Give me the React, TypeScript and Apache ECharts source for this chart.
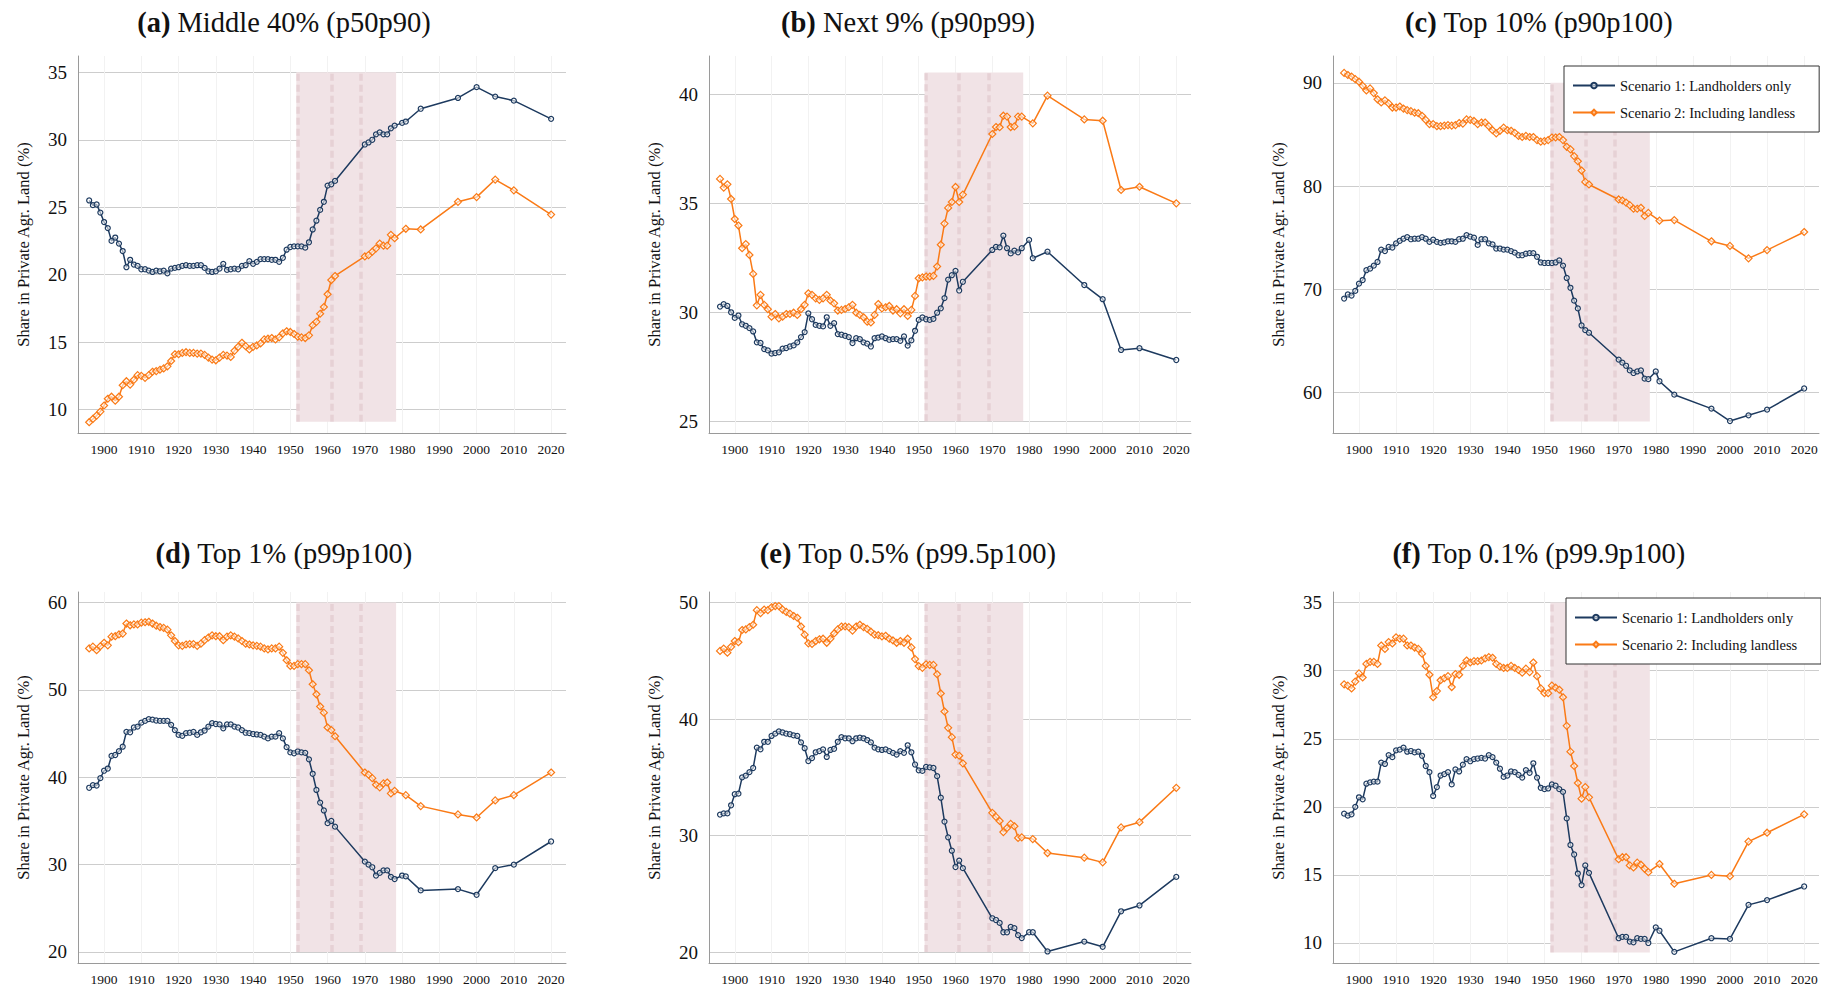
import React, { useEffect, useRef } from "react";
import * as echarts from "echarts";

// ---------- DATA ----------
const YEARS = [
  1896, 1897, 1898, 1899, 1900, 1901, 1902, 1903, 1904, 1905,
  1906, 1907, 1908, 1909, 1910, 1911, 1912, 1913, 1914, 1915,
  1916, 1917, 1918, 1919, 1920, 1921, 1922, 1923, 1924, 1925,
  1926, 1927, 1928, 1929, 1930, 1931, 1932, 1933, 1934, 1935,
  1936, 1937, 1938, 1939, 1940, 1941, 1942, 1943, 1944, 1945,
  1946, 1947, 1948, 1949, 1950, 1951, 1952, 1953, 1954, 1955,
  1956, 1957, 1958, 1959, 1960, 1961, 1962,
  1970, 1971, 1972, 1973, 1974, 1975, 1976, 1977, 1978,
  1980, 1981, 1985, 1995, 2000, 2005, 2010, 2020,
];

const X_TICKS = [1900, 1910, 1920, 1930, 1940, 1950, 1960, 1970, 1980, 1990, 2000, 2010, 2020];
const REFORM_YEARS = [1952, 1961, 1969];
const REFORM_SPAN = [1951.6, 1978.4];

const SERIES_NAMES = ["Scenario 1: Landholders only", "Scenario 2: Including landless"];
const TITLE_TAGS = ["(a)", "(b)", "(c)", "(d)", "(e)", "(f)"];
const TITLE_TEXTS = [
  "Middle 40% (p50p90)",
  "Next 9% (p90p99)",
  "Top 10% (p90p100)",
  "Top 1% (p99p100)",
  "Top 0.5% (p99.5p100)",
  "Top 0.1% (p99.9p100)",
];
const Y_NAME = "Share in Private Agr. Land (%)";

// (a) Middle 40%
const A_S1 = [
  25.5, 25.15, 25.2, 24.6, 23.9, 23.45, 22.5, 22.75, 22.3, 21.75,
  20.55, 21.1, 20.75, 20.65, 20.4, 20.4, 20.3, 20.2, 20.3, 20.25,
  20.3, 20.1, 20.45, 20.5, 20.55, 20.65, 20.7, 20.65, 20.65, 20.7,
  20.7, 20.5, 20.25, 20.2, 20.25, 20.45, 20.8, 20.35, 20.4, 20.45,
  20.4, 20.65, 20.7, 21.0, 20.8, 20.95, 21.15, 21.15, 21.15, 21.1,
  21.1, 20.95, 21.25, 21.85, 22.05, 22.1, 22.1, 22.1, 22.0, 22.4,
  23.35, 24.0, 24.8, 25.4, 26.6, 26.7, 26.95,
  29.65, 29.8, 30.0, 30.4, 30.55, 30.4, 30.4, 30.85, 31.05,
  31.25, 31.35, 32.3, 33.1, 33.9, 33.2, 32.9, 31.55,
];
const A_S2 = [
  9.06, 9.3, 9.55, 9.85, 10.3, 10.8, 10.95, 10.65, 10.95, 11.8,
  12.1, 11.85, 12.2, 12.55, 12.5, 12.35, 12.55, 12.8, 12.85, 12.95,
  13.05, 13.2, 13.6, 14.1, 14.1, 14.2, 14.25, 14.2, 14.2, 14.15,
  14.15, 14.05, 13.85, 13.7, 13.65, 13.85, 14.05, 14.0, 13.9, 14.35,
  14.65, 14.95, 14.7, 14.45, 14.65, 14.75, 14.9, 15.2, 15.25, 15.3,
  15.2, 15.35, 15.65, 15.8, 15.75, 15.6, 15.4, 15.35, 15.3, 15.5,
  16.25, 16.5, 17.1, 17.6, 18.55, 19.6, 19.9,
  21.35, 21.45, 21.7, 21.95, 22.3, 22.15, 22.15, 22.95, 22.7,
  null, 23.4, 23.35, 25.4, 25.75, 27.05, 26.25, 24.45,
];

// (b) Next 9%
const B_S1 = [
  30.26, 30.37, 30.29, 30.0, 29.74, 29.85, 29.45, 29.38, 29.27, 29.12,
  28.62, 28.59, 28.31, 28.25, 28.1, 28.13, 28.16, 28.33, 28.36, 28.43,
  28.48, 28.62, 28.86, 29.09, 29.95, 29.68, 29.42, 29.38, 29.35, 29.77,
  29.38, 29.5, 29.0, 28.97, 28.92, 28.86, 28.59, 28.81, 28.77, 28.62,
  28.56, 28.43, 28.81, 28.84, 28.89, 28.81, 28.74, 28.77, 28.77, 28.69,
  28.89, 28.47, 28.71, 29.15, 29.65, 29.76, 29.68, 29.65, 29.7, 29.98,
  30.18, 30.65, 31.5, 31.7, 31.9, 31.0, 31.4,
  32.86, 33.0, 32.98, 33.52, 32.94, 32.7, 32.83, 32.75, 32.94,
  33.32, 32.48, 32.78, 31.25, 30.6, 28.27, 28.35, 27.81,
];
const B_S2 = [
  36.12, 35.72, 35.87, 35.2, 34.28, 33.98, 32.94, 33.13, 32.63, 31.76,
  30.32, 30.8, 30.34, 30.14, 29.8, 29.92, 29.72, 29.8, 29.92, 29.92,
  29.98, 29.88, 30.14, 30.34, 30.87, 30.8, 30.64, 30.57, 30.64, 30.8,
  30.54, 30.41, 30.08, 30.11, 30.15, 30.23, 30.34, 29.98, 29.88, 29.77,
  29.57, 29.53, 29.88, 30.38, 30.18, 30.23, 30.29, 30.08, 30.14, 29.95,
  30.14, 29.83, 30.11, 30.75, 31.56, 31.6, 31.64, 31.64, 31.67, 32.1,
  33.1, 34.07, 34.79, 35.06, 35.75, 35.06, 35.4,
  38.18, 38.5, 38.49, 39.02, 38.98, 38.5, 38.53, 38.98, 38.98,
  null, 38.67, 39.94, 38.85, 38.79, 35.61, 35.76, 35.0,
];

// (c) Top 10%
const C_S1 = [
  69.1, 69.5, 69.4, 69.85, 70.55, 70.9, 71.85, 72.0, 72.3, 72.65,
  73.85, 73.7, 74.1, 74.05, 74.45, 74.7, 74.9, 75.05, 74.85, 74.9,
  74.9, 75.05, 74.9, 74.6, 74.8, 74.6, 74.5, 74.55, 74.65, 74.65,
  74.6, 74.85, 74.9, 75.25, 75.1, 75.0, 74.3, 74.85, 74.85, 74.45,
  74.35, 73.95, 73.95, 73.85, 73.85, 73.7, 73.55, 73.3, 73.3, 73.45,
  73.5, 73.5, 73.15, 72.6, 72.55, 72.55, 72.55, 72.6, 72.8, 72.3,
  71.1, 70.15, 68.9, 68.15, 66.5, 66.05, 65.8,
  63.2, 62.9, 62.6, 62.15, 61.9, 62.05, 62.15, 61.35, 61.3,
  62.05, 61.1, 59.8, 58.45, 57.25, 57.8, 58.35, 60.4,
];
const C_S2 = [
  90.95, 90.75, 90.6, 90.35, 90.1, 89.7, 89.25, 89.45, 89.0, 88.4,
  88.1, 88.3, 88.0, 87.6, 87.6, 87.7, 87.5, 87.35, 87.25, 87.1,
  87.05, 86.8, 86.4, 86.0, 86.0, 85.8, 85.8, 85.85, 85.9, 85.85,
  85.9, 86.1, 86.05, 86.45, 86.4, 86.3, 86.0, 86.15, 86.15, 85.8,
  85.4, 85.1, 85.35, 85.65, 85.4, 85.35, 85.15, 84.85, 84.75, 84.85,
  84.75, 84.75, 84.45, 84.3, 84.35, 84.45, 84.7, 84.7, 84.75, 84.45,
  83.8, 83.55, 82.9, 82.4, 81.5, 80.4, 80.15,
  78.7, 78.6, 78.4, 78.15, 77.8, 77.8, 77.9, 77.1, 77.4,
  null, 76.65, 76.7, 74.65, 74.2, 73.0, 73.8, 75.55,
];

// (d) Top 1%
const D_S1 = [
  38.8, 39.1, 39.05, 39.9, 40.75, 41.0, 42.45, 42.55, 43.0, 43.5,
  45.2, 45.15, 45.7, 45.8, 46.25, 46.45, 46.65, 46.6, 46.5, 46.45,
  46.45, 46.45, 46.0, 45.4, 44.85, 44.75, 45.05, 45.1, 45.2, 44.85,
  45.15, 45.35, 45.8, 46.2, 46.1, 46.05, 45.6, 46.05, 46.05, 45.8,
  45.7, 45.4, 45.1, 45.05, 44.95, 44.9, 44.85, 44.65, 44.45, 44.65,
  44.65, 45.05, 44.45, 43.45, 42.85, 42.75, 42.95, 42.85, 42.8, 42.05,
  40.4, 38.55, 37.1, 36.2, 34.75, 35.0, 34.35,
  30.35, 30.0, 29.7, 28.75, 29.05, 29.35, 29.35, 28.6, 28.35,
  28.75, 28.65, 27.05, 27.2, 26.55, 29.6, 30.0, 32.65,
];
const D_S2 = [
  54.75, 54.95, 54.55, 55.0, 55.4, 55.1, 56.1, 56.15, 56.35, 56.45,
  57.6, 57.4, 57.5, 57.5, 57.7, 57.75, 57.8, 57.6, 57.35, 57.2,
  57.1, 56.9, 56.25, 55.6, 55.1, 55.05, 55.2, 55.25, 55.25, 55.05,
  55.3, 55.7, 56.0, 56.25, 56.15, 56.15, 55.7, 56.1, 56.25, 56.1,
  55.9, 55.6, 55.3, 55.2, 55.1, 55.05, 54.95, 54.75, 54.65, 54.75,
  54.75, 54.95, 54.25, 53.4, 52.75, 52.75, 52.95, 52.95, 52.95, 52.25,
  50.65, 49.5, 48.1, 47.4, 45.7, 45.4, 44.7,
  40.55, 40.3, 39.9, 39.15, 38.85, 39.3, 39.4, 38.15, 38.45,
  null, 37.95, 36.7, 35.75, 35.4, 37.35, 37.95, 40.55,
];

// (e) Top 0.5%
const E_S1 = [
  31.8, 31.9, 31.9, 32.6, 33.55, 33.6, 35.0, 35.15, 35.45, 35.8,
  37.55, 37.4, 38.05, 38.05, 38.55, 38.75, 38.95, 38.85, 38.75, 38.7,
  38.6, 38.55, 38.0, 37.5, 36.4, 36.65, 37.15, 37.25, 37.4, 36.75,
  37.35, 37.45, 38.05, 38.45, 38.35, 38.35, 38.1, 38.35, 38.4, 38.35,
  38.2, 38.0, 37.55, 37.4, 37.35, 37.4, 37.25, 37.1, 36.95, 37.25,
  37.1, 37.75, 37.15, 36.1, 35.6, 35.55, 35.9, 35.85, 35.8, 35.1,
  33.25, 31.2, 29.85, 28.7, 27.3, 27.85, 27.2,
  22.9, 22.75, 22.5, 21.7, 21.7, 22.15, 22.05, 21.45, 21.2,
  21.7, 21.7, 20.05, 20.9, 20.45, 23.5, 24.0, 26.45,
];
const E_S2 = [
  45.85, 46.05, 45.7, 46.2, 46.7, 46.6, 47.65, 47.7, 47.9, 48.1,
  49.35, 49.1, 49.4, 49.35, 49.6, 49.7, 49.7, 49.4, 49.2, 49.05,
  48.85, 48.7, 47.95, 47.25, 46.5, 46.45, 46.7, 46.85, 46.9, 46.55,
  46.9, 47.35, 47.7, 47.95, 47.95, 47.9, 47.6, 47.95, 48.1, 47.9,
  47.75, 47.5, 47.25, 47.2, 47.1, 47.15, 46.9, 46.75, 46.55, 46.7,
  46.55, 46.9, 46.15, 45.15, 44.55, 44.4, 44.7, 44.65, 44.65, 43.85,
  42.2, 40.65, 39.25, 38.45, 36.95, 36.85, 36.2,
  31.95, 31.6, 31.25, 30.3, 30.65, 31.0, 30.8, 29.8, 29.85,
  null, 29.7, 28.5, 28.1, 27.7, 30.7, 31.15, 34.1,
];

// (f) Top 0.1%
const F_S1 = [
  19.5, 19.35, 19.45, 20.0, 20.7, 20.55, 21.7, 21.8, 21.85, 21.85,
  23.25, 23.15, 23.8, 23.65, 24.15, 24.2, 24.35, 24.05, 24.1, 24.0,
  24.05, 23.75, 23.0, 22.55, 20.8, 21.45, 22.3, 22.4, 22.55, 21.65,
  22.75, 22.6, 23.1, 23.5, 23.35, 23.5, 23.55, 23.6, 23.55, 23.8,
  23.65, 23.25, 22.8, 22.2, 22.3, 22.6, 22.55, 22.35, 22.15, 22.7,
  22.5, 23.2, 22.15, 21.4, 21.3, 21.35, 21.65, 21.55, 21.3, 21.1,
  19.15, 17.2, 16.5, 15.1, 14.25, 15.7, 15.15,
  10.35, 10.45, 10.45, 10.1, 10.05, 10.35, 10.3, 10.3, 10.0,
  11.15, 10.9, 9.35, 10.35, 10.3, 12.8, 13.15, 14.15,
];
const F_S2 = [
  29.0, 28.9, 28.7, 29.2, 29.8, 29.5, 30.5, 30.65, 30.65, 30.5,
  31.85, 31.6, 32.1, 32.0, 32.45, 32.35, 32.35, 31.85, 31.85, 31.7,
  31.6, 31.25, 30.35, 29.7, 28.05, 28.5, 29.3, 29.45, 29.6, 28.8,
  29.75, 29.7, 30.35, 30.75, 30.6, 30.7, 30.7, 30.75, 30.9, 31.0,
  30.95, 30.5, 30.3, 30.2, 30.2, 30.35, 30.2, 30.05, 29.85, 30.15,
  29.9, 30.6, 29.6, 28.7, 28.35, 28.35, 28.9, 28.75, 28.6, 28.05,
  25.95, 24.05, 23.0, 21.75, 20.6, 21.45, 20.7,
  16.15, 16.3, 16.3, 15.7, 15.55, 15.9, 15.75, 15.45, 15.2,
  null, 15.8, 14.35, 15.0, 14.9, 17.45, 18.1, 19.45,
];

const S1_VALUES = [A_S1, B_S1, C_S1, D_S1, E_S1, F_S1];
const S2_VALUES = [A_S2, B_S2, C_S2, D_S2, E_S2, F_S2];

// y axis ranges, tick steps and shaded band extents per panel
const Y_MIN = [8.26, 24.46, 56.09, 18.74, 19.06, 8.53];
const Y_MAX = [36.21, 41.76, 92.59, 61.21, 50.91, 35.78];
const Y_STEP = [5, 5, 10, 10, 10, 5];
const SHADE_LO = [9.1, 25, 57.2, 20, 20, 9.3];
const SHADE_HI = [35, 41, 90, 60, 50, 35];

// ---------- LAYOUT / STYLE ----------
const FONT = "Liberation Serif";
const NAVY = "#1d3a5f";
const ORANGE = "#fa7a16";
const SHADE = "#f1e3e6";
const GRID_LEFT = [78, 709, 1333];
const GRID_WIDTH = [488, 482, 486];
const GRID_TOP = [56, 592];
const GRID_HEIGHT = [377, 371];
const TITLE_X = [284, 908, 1539];
const TITLE_Y = [22, 553];

function isMultiple(v: number, step: number) {
  const r = v / step;
  return Math.abs(r - Math.round(r)) < 1e-6;
}

function buildOption() {
  const grids: any[] = [];
  const xAxes: any[] = [];
  const yAxes: any[] = [];
  const series: any[] = [];
  const graphics: any[] = [];

  for (let i = 0; i < 6; i++) {
    const col = i % 3;
    const row = Math.floor(i / 3);
    grids.push({
      left: GRID_LEFT[col],
      top: GRID_TOP[row],
      width: GRID_WIDTH[col],
      height: GRID_HEIGHT[row],
      containLabel: false,
      outerBoundsMode: "none",
    });
    xAxes.push({
      type: "value",
      gridIndex: i,
      min: 1893,
      max: 2024,
      minInterval: 10,
      maxInterval: 10,
      axisLine: { show: true, onZero: false, lineStyle: { color: "#9a9a9a", width: 1 } },
      axisTick: { show: false },
      axisLabel: {
        show: true,
        fontFamily: FONT,
        fontSize: 13.5,
        color: "#111",
        margin: 9,
        showMinLabel: false,
        showMaxLabel: false,
        formatter: (v: number) => (X_TICKS.indexOf(v) >= 0 ? String(v) : ""),
      },
      splitLine: {
        show: true,
        showMinLine: false,
        showMaxLine: false,
        lineStyle: { color: "#f2f2f2", width: 1 },
      },
    });
    const step = Y_STEP[i];
    yAxes.push({
      type: "value",
      gridIndex: i,
      min: Y_MIN[i],
      max: Y_MAX[i],
      minInterval: step,
      maxInterval: step,
      name: Y_NAME,
      nameLocation: "middle",
      nameGap: 46,
      nameRotate: 90,
      nameTextStyle: { fontFamily: FONT, fontSize: 16.5, color: "#111" },
      axisLine: { show: true, onZero: false, lineStyle: { color: "#9a9a9a", width: 1 } },
      axisTick: { show: false },
      axisLabel: {
        fontFamily: FONT,
        fontSize: 19,
        color: "#111",
        margin: 11,
        showMinLabel: false,
        showMaxLabel: false,
        formatter: (v: number) => (isMultiple(v, step) ? String(Math.round(v)) : ""),
      },
      splitLine: {
        show: true,
        showMinLine: false,
        showMaxLine: false,
        lineStyle: { color: "#cdcdcd", width: 1.2 },
      },
    });

    const s1 = S1_VALUES[i];
    const s2 = S2_VALUES[i];
    const d1: any[] = [];
    const d2: any[] = [];
    YEARS.forEach((y, k) => {
      if (s1[k] != null) d1.push([y, s1[k]]);
      if (s2[k] != null) d2.push([y, s2[k]]);
    });

    series.push({
      name: SERIES_NAMES[1],
      type: "line",
      xAxisIndex: i,
      yAxisIndex: i,
      data: d2,
      symbol: "diamond",
      symbolSize: 7,
      z: 3,
      lineStyle: { color: ORANGE, width: 1.5 },
      itemStyle: { color: "rgba(255,255,255,0.55)", borderColor: ORANGE, borderWidth: 1.2 },
      emphasis: { disabled: true },
      markArea: {
        silent: true,
        z: 1,
        itemStyle: { color: SHADE },
        data: [[{ xAxis: REFORM_SPAN[0], yAxis: SHADE_LO[i] }, { xAxis: REFORM_SPAN[1], yAxis: SHADE_HI[i] }]],
      },
      markLine: {
        silent: true,
        z: 1,
        symbol: ["none", "none"],
        label: { show: false },
        lineStyle: { color: "rgba(200,160,170,0.28)", width: 3.5, type: [7, 4] },
        emphasis: { disabled: true },
        data: REFORM_YEARS.map((yr) => [
          { coord: [yr, SHADE_LO[i]] },
          { coord: [yr, SHADE_HI[i]] },
        ]),
      },
    });
    series.push({
      name: SERIES_NAMES[0],
      type: "line",
      xAxisIndex: i,
      yAxisIndex: i,
      data: d1,
      symbol: "circle",
      symbolSize: 5,
      z: 4,
      lineStyle: { color: NAVY, width: 1.5 },
      itemStyle: { color: "rgba(255,255,255,0.55)", borderColor: NAVY, borderWidth: 1.2 },
      emphasis: { disabled: true },
    });

    graphics.push({
      type: "text",
      x: TITLE_X[col],
      y: TITLE_Y[row],
      style: {
        text: "{b|" + TITLE_TAGS[i] + "} " + TITLE_TEXTS[i],
        fill: "#111",
        fontFamily: FONT,
        fontSize: 28.5,
        align: "center",
        verticalAlign: "middle",
        textAlign: "center",
        textVerticalAlign: "middle",
        rich: {
          b: { fontFamily: FONT, fontSize: 28.5, fontWeight: "bold", fill: "#111" },
        },
      },
    });
  }

  const legendBase = {
    orient: "vertical",
    data: [SERIES_NAMES[0], SERIES_NAMES[1]],
    backgroundColor: "#fff",
    borderColor: "#333",
    borderWidth: 1,
    borderRadius: 0,
    padding: [12, 24, 12, 8],
    itemGap: 12,
    itemWidth: 42,
    itemHeight: 7,
    selectedMode: false,
    textStyle: { fontFamily: FONT, fontSize: 14.5, color: "#111" },
  };

  return {
    animation: false,
    backgroundColor: "#fff",
    grid: grids,
    xAxis: xAxes,
    yAxis: yAxes,
    series,
    legend: [
      { ...legendBase, left: 1564, top: 66 },
      { ...legendBase, left: 1566, top: 598 },
    ],
    graphic: graphics,
  };
}

export default function App() {
  const ref = useRef<HTMLDivElement>(null);
  useEffect(() => {
    if (!ref.current) return;
    const chart = echarts.init(ref.current, undefined, { renderer: "svg" });
    chart.setOption(buildOption() as any);
    return () => chart.dispose();
  }, []);
  return (
    <div
      ref={ref}
      style={{ position: "fixed", left: 0, top: 0, width: 1821, height: 988, background: "#fff" }}
    />
  );
}
